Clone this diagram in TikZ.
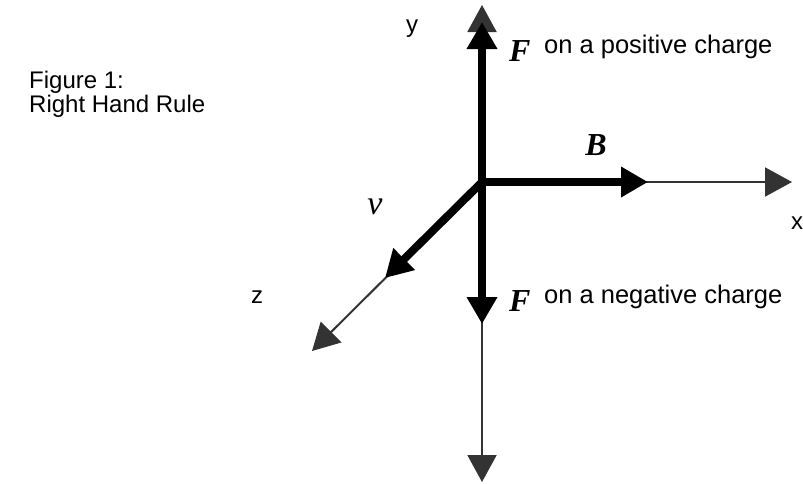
\documentclass[tikz,border=0pt]{standalone}
\usepackage{fontspec}
\setmainfont{Liberation Sans}
\newfontfamily\symfont{Liberation Serif}
\usetikzlibrary{arrows.meta}
\definecolor{axisgray}{gray}{0.2}
\tikzset{
  thinaxis/.style={draw=axisgray, line width=2pt, -{Triangle[length=27pt,width=29pt,fill=axisgray]}},
  thickvec/.style={draw=black, line width=8pt, -{Triangle[length=27pt,width=29pt,fill=black]}},
  lbl/.style={inner sep=0pt, font=\fontsize{24}{28}\selectfont},
  rlbl/.style={inner sep=0pt, font=\fontsize{25.5}{30}\selectfont},
  vlbl/.style={inner sep=0pt, font=\fontsize{34}{38}\selectfont\symfont\itshape},
  blbl/.style={inner sep=0pt, font=\fontsize{32}{36}\selectfont\symfont\bfseries\itshape},
}
\begin{document}
\begin{tikzpicture}[x=1pt,y=-1pt]
\useasboundingbox (0,0) rectangle (803,483);
\coordinate (O) at (482,182);
\coordinate (ytip) at (482,5);
\coordinate (xtip) at (792,182);
\coordinate (ntip) at (482,482);
\coordinate (ztip) at (312,351);
\coordinate (Fp) at (482,22);
\coordinate (Bt) at (648,182);
\coordinate (Fn) at (482,324);
\coordinate (vt) at (385,278);
% thin axes
\draw[thinaxis] (O) -- (ytip);
\draw[thinaxis] (O) -- (xtip);
\draw[thinaxis] (O) -- (ntip);
\draw[thinaxis] (O) -- (ztip);
% thick vectors
\draw[thickvec] (O) -- (Fp);
\draw[thickvec] (O) -- (Bt);
\draw[thickvec] (O) -- (Fn);
\draw[thickvec] (O) -- (vt);
% labels
\node[lbl, anchor=base west] (fig1) at (29,88) {Figure 1:};
\node[lbl, anchor=base west] (fig2) at (29,112) {Right Hand Rule};
\node[lbl, anchor=base] (ylbl) at (412,32) {y};
\node[lbl, anchor=base] (xlbl) at (797,229) {x};
\node[lbl, anchor=base] (zlbl) at (257,303) {z};
\node[blbl, anchor=base west] (Fplbl) at (509,61) {F};
\node[rlbl, anchor=base west] (Fptxt) at (544,53) {on a positive charge};
\node[blbl, anchor=base west] (Fnlbl) at (509,311) {F};
\node[rlbl, anchor=base west] (Fntxt) at (544,303) {on a negative charge};
\node[blbl, anchor=base] (Blbl) at (596,155) {B};
\node[vlbl, anchor=base] (vlbl) at (375,214) {v};
\end{tikzpicture}
\end{document}
